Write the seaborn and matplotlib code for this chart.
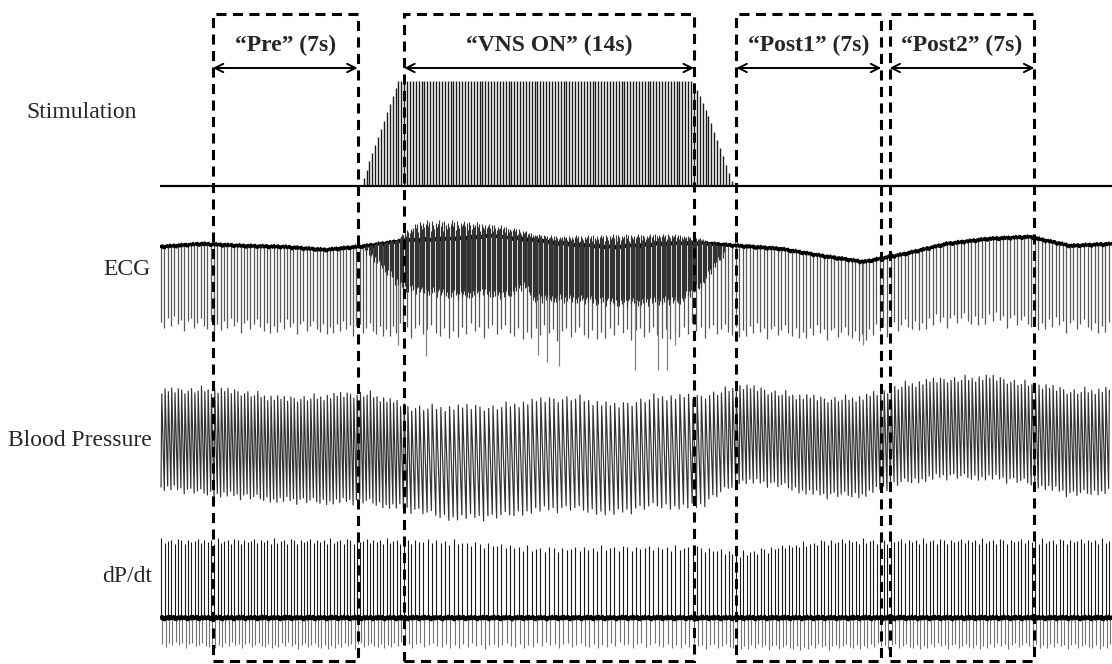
import matplotlib
matplotlib.use("Agg")
import matplotlib.pyplot as plt
from matplotlib.patches import Rectangle
import numpy as np
import seaborn as sns

# analysis windows, seconds from the start of the record
window_names = ['\u201cPre\u201d (7s)', '\u201cVNS ON\u201d (14s)',
                '\u201cPost1\u201d (7s)', '\u201cPost2\u201d (7s)']
window_start = [2.55, 11.8, 27.85, 35.25]
window_len = [7, 14, 7, 7]

trace_names = ['Stimulation', 'ECG', 'Blood Pressure', 'dP/dt']

# stimulation train envelope (mA)
stim_t = [9.7, 11.5, 25.75, 26.6, 27.7]
stim_amp = [0.0, 1.0, 1.0, 0.62, 0.0]
stim_period = 0.14

# envelopes every 2 s
knot_t = [0, 2, 4, 6, 8, 10, 12, 14, 16, 18, 20, 22,
          24, 26, 28, 30, 32, 34, 36, 38, 40, 42, 44, 46]
ecg_base = [3, 6, 4, 3, 0, 4, 10, 11, 14, 10, 5, 3,
            6, 7, 4, 1, -6, -12, -4, 6, 11, 13, 4, 6]
ecg_spike = [-72, -74, -75, -76, -77, -79, -80, -81, -80, -82, -83, -82,
             -83, -80, -80, -81, -82, -84, -75, -70, -68, -72, -75, -76]
bp_sys = [178, 180, 177, 170, 173, 176, 162, 162, 162, 168, 172, 163,
          173, 172, 183, 176, 170, 172, 185, 190, 192, 185, 178, 180]
bp_dia = [83, 78, 74, 70, 69, 69, 61, 53, 53, 60, 62, 57,
          65, 63, 90, 85, 75, 76, 89, 94, 93, 88, 76, 80]
dp_top = [80, 80, 80, 80, 80, 80, 80, 79, 76, 72, 72, 73,
          73, 73, 67, 74, 79, 80, 80, 80, 80, 80, 80, 80]
dp_bot = [-26, -27, -27, -27, -28, -27, -27, -27, -28, -27, -27, -27,
          -27, -28, -28, -29, -29, -28, -28, -28, -28, -27, -28, -28]

# RR interval (s), slower during stimulation
rr_t = [0, 11, 13, 25.5, 28, 46]
rr_s = [0.16, 0.16, 0.21, 0.21, 0.17, 0.17]

# ECG: very deep beats and the stimulation artefact band
deep_t = [11.5, 12.85, 18.26, 18.7, 19.3, 22.95, 24.06, 24.5, 24.9, 33.96]
deep_v = [-95, -106, -105, -112, -116, -120, -120, -120, -95, -95]
art_t = [9.9, 10.6, 11.35, 11.8, 12.6, 14.5, 15.5, 16.7,
         17.6, 18.1, 19.3, 22.2, 25.1, 26.1, 26.8, 27.3]
art_top = [4, 7, 10, 18, 30, 30, 27, 24, 20, 16, 14, 16, 16, 12, 6, 3]
art_bot = [0, -12, -30, -38, -40, -45, -42, -45, -35, -48, -48, -52, -50, -35, -15, 0]

# beat to beat variation and baseline noise
spike_jitter = [0, -6, 4, -3, 7, -1, 3, -8, 2, 5, -4, 1, 6, -2, -5, 3, -7]
level_mix = [1.0, 0.7, 0.9, 0.45, 0.95, 0.75, 0.55, 0.85, 0.65, 0.8]
wiggle = [0, 1.2, -0.8, 1.6, -1.4, 0.6, -1.8, 1.0, -0.4, 1.4, -1.2, 0.2, 1.8, -1.0]


def cyc(pattern, n):
    return np.resize(np.asarray(pattern, dtype=float), n)


def beat_times(t0, t1):
    times = []
    t = t0
    while t < t1:
        times.append(t)
        t += np.interp(t, rr_t, rr_s)
    return np.array(times)


sns.set_style('white')
plt.rcParams['font.family'] = ['Liberation Serif', 'DejaVu Serif']

fig = plt.figure(figsize=(11.12, 6.64), dpi=100)
left, width = 160 / 1112, 952 / 1112
t_end = 46

ax_stim = fig.add_axes([left, 0.7041, width, 0.1898])
ax_ecg = fig.add_axes([left, 0.4277, width, 0.2636])
ax_bp = fig.add_axes([left, 0.2018, width, 0.2410])
ax_dp = fig.add_axes([left, 0.0060, width, 0.1958])
for ax in (ax_stim, ax_ecg, ax_bp, ax_dp):
    ax.set_xlim(0, t_end)
    ax.axis('off')
ax_stim.set_ylim(-0.1, 1.1)
ax_ecg.set_ylim(-130, 45)
ax_bp.set_ylim(40, 200)
ax_dp.set_ylim(-42, 88)

tt = np.arange(0, t_end + 0.01, 0.04)
beats = beat_times(0.05, t_end)
nb = len(beats)

# stimulation
pulses = np.arange(stim_t[0], stim_t[-1], stim_period)
ax_stim.vlines(pulses, 0, np.interp(pulses, stim_t, stim_amp), color='0.1', lw=1.0)
ax_stim.axhline(0, color='black', lw=1.6)

# ECG
base = np.interp(tt, knot_t, ecg_base) + cyc(wiggle, len(tt))
base_b = np.interp(beats, knot_t, ecg_base)
depth_b = np.interp(beats, knot_t, ecg_spike) + cyc(spike_jitter, nb)
ax_ecg.vlines(beats, base_b, depth_b, color='0.35', lw=0.9)
ax_ecg.vlines(deep_t, np.interp(deep_t, knot_t, ecg_base), deep_v, color='0.5', lw=0.9)
sns.lineplot(x=tt, y=base, ax=ax_ecg, color='black', lw=1.5, estimator=None, sort=False)
at = np.arange(art_t[0], art_t[-1], 0.06)
a_base = np.interp(at, knot_t, ecg_base)
a_top = a_base + (np.interp(at, art_t, art_top) - a_base) * cyc(level_mix, len(at))
a_bot = np.interp(at, art_t, art_bot) + 0.6 * cyc(spike_jitter, len(at))
ax_ecg.vlines(at, a_bot, a_top, color='0.2', lw=0.8)

# blood pressure
j = 0.5 * cyc(spike_jitter, nb)
bp_x = np.column_stack([beats, beats + 0.035]).ravel()
bp_y = np.column_stack([np.interp(beats, knot_t, bp_dia) + j,
                        np.interp(beats, knot_t, bp_sys) - j[::-1]]).ravel()
sns.lineplot(x=bp_x, y=bp_y, ax=ax_bp, color='0.2', lw=0.85, estimator=None, sort=False)

# dP/dt
up = np.interp(beats, knot_t, dp_top) - 0.8 * np.abs(cyc(spike_jitter, nb))
down = np.interp(beats, knot_t, dp_bot) + 0.4 * cyc(spike_jitter, nb)
ax_dp.vlines(beats + 0.07, 0, down, color='0.45', lw=0.8)
ax_dp.vlines(beats + 0.02, 0, up, color='0.1', lw=0.8)
sns.lineplot(x=tt, y=1.2 * cyc(wiggle, len(tt)), ax=ax_dp, color='black', lw=1.8,
             estimator=None, sort=False)

# dashed analysis windows with labelled arrows
ov = fig.add_axes([left, 0, width, 1], zorder=10)
ov.set_xlim(0, t_end)
ov.set_ylim(0, 1)
ov.axis('off')
box_bot, box_top = 1 - 661 / 664, 1 - 14 / 664
for name, s, L in zip(window_names, window_start, window_len):
    ov.add_patch(Rectangle((s, box_bot), L, box_top - box_bot, fill=False, ec='black',
                           lw=2.2, ls=(0, (3.3, 2.1)), clip_on=False))
    ov.annotate('', xy=(s + L, 1 - 68 / 664), xytext=(s, 1 - 68 / 664),
                arrowprops=dict(arrowstyle='<->,head_length=0.6,head_width=0.3',
                                lw=1.4, color='black', shrinkA=0, shrinkB=0))
    ov.text(s + L / 2, 1 - 45 / 664, name, ha='center', va='center',
            fontsize=17, fontweight='bold')

# trace labels
label_x = [82, 127, 80, 127]
label_y = [113, 270, 440, 576]
for name, x, y in zip(trace_names, label_x, label_y):
    fig.text(x / 1112, 1 - y / 664, name, ha='center', va='center', fontsize=17)

fig.savefig('out.png', dpi=100)
